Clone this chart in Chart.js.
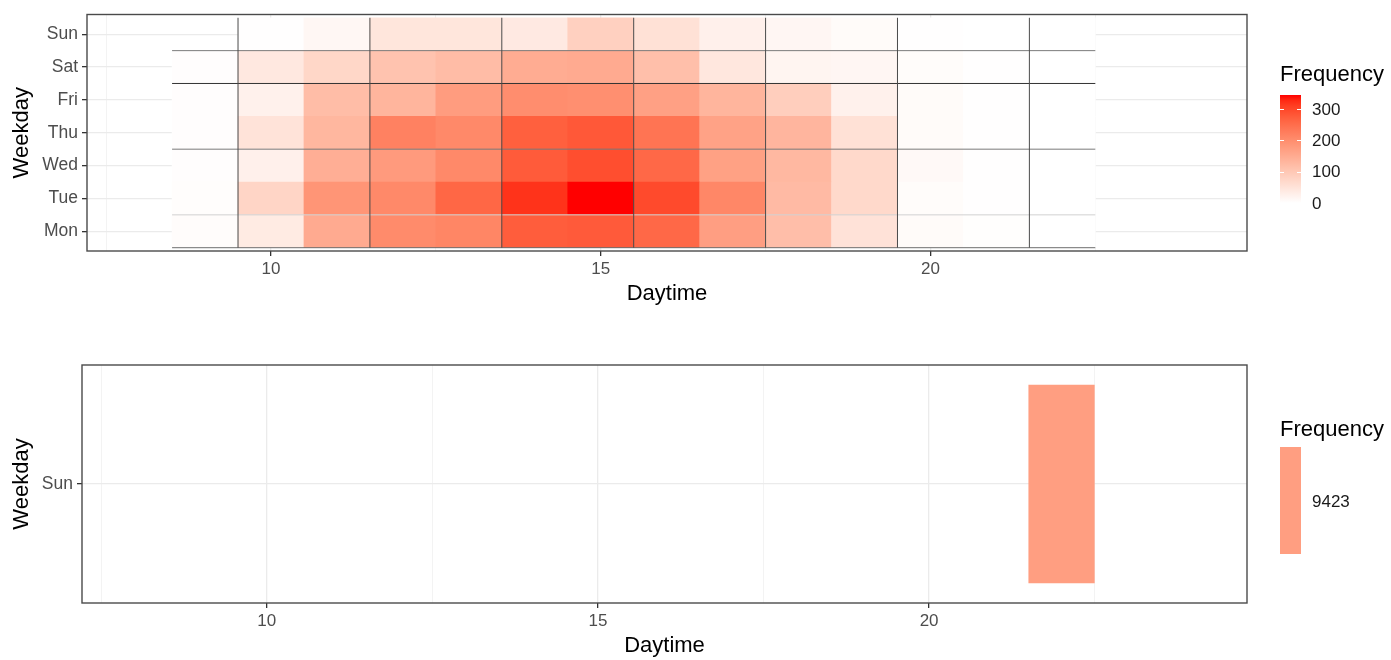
<!DOCTYPE html>
<html>
<head>
<meta charset="utf-8">
<script src="https://cdn.jsdelivr.net/npm/chart.js@4.4.1/dist/chart.umd.min.js"></script>
<style>
  body { margin: 0; width: 1391px; height: 660px; overflow: hidden; position: relative; background: #fff;
         font-family: "Liberation Sans", Arial, sans-serif; }
  canvas { position: absolute; left: 0; }
  #topChart { top: 0; }
  #bottomChart { top: 340px; }
  .legend-title { position: absolute; left: 1280px; font-size: 22px; line-height: 22px; color: #000; white-space: nowrap; }
  .legend-label { position: absolute; left: 1312px; font-size: 17px; line-height: 17px; color: #1a1a1a; }
  .legend-bar { position: absolute; left: 1280px; width: 21px; }
</style>
</head>
<body>
<canvas id="topChart" width="1391" height="308"></canvas>
<canvas id="bottomChart" width="1391" height="320"></canvas>
<div id="legendTop"></div>
<div id="legendBottom"></div>
<script>
// ---- data ----
const weekdays = ['Mon', 'Tue', 'Wed', 'Thu', 'Fri', 'Sat', 'Sun'];
const hours = [9, 10, 11, 12, 13, 14, 15, 16, 17, 18, 19, 20, 21, 22];

const monFreq = [5, 37, 151, 204, 213, 274, 277, 258, 172, 116, 52, 8, 2, 0];
const tueFreq = [4, 76, 188, 207, 260, 320, 345, 297, 210, 123, 69, 6, 1, 0];
const wedFreq = [3, 27, 144, 179, 207, 276, 292, 258, 168, 128, 69, 10, 1, 0];
const thuFreq = [3, 50, 130, 220, 207, 270, 280, 240, 166, 132, 55, 8, 1, 0];
const friFreq = [3, 25, 119, 133, 176, 201, 197, 169, 133, 89, 25, 8, 1, 0];
const satFreq = [3, 41, 73, 108, 121, 148, 151, 115, 44, 18, 16, 6, 1, 0];
const sunFreq = [null, 1, 14, 46, 46, 39, 84, 55, 27, 16, 8, 1, 0, 0];

// second panel: a single tile
const totalDay = 'Sun';
const totalHour = 22;
const totalFreq = 9423;

const xTickLabels = [10, 15, 20];
const xGridValues = [7.5, 10, 12.5, 15, 17.5, 20, 22.5];
const legendBreaks = [0, 100, 200, 300];

// odd tile edges visible in the top panel
const tileEdgesX = [9.5, 11.5, 13.5, 15.5, 17.5, 19.5, 21.5];
const tileEdgesY = [6.5, 5.5, 3.5, 1.5, 0.5];
const tileEdgeColoursY = ['#7c7c7c', '#333333', '#7a7a7a', '#d2d2d2', '#6e6e6e'];

// ---- white -> red gradient in CIELAB (like scale_fill_gradient) ----
const WHITE_REF = [0.95047, 1, 1.08883];
function toLinear(c) { c /= 255; return c <= 0.04045 ? c / 12.92 : Math.pow((c + 0.055) / 1.055, 2.4); }
function toSrgb(c) {
  c = c <= 0.0031308 ? 12.92 * c : 1.055 * Math.pow(c, 1 / 2.4) - 0.055;
  return Math.round(Math.max(0, Math.min(1, c)) * 255);
}
function rgbToLab(rgb) {
  const [R, G, B] = rgb.map(toLinear);
  const X = (0.4124 * R + 0.3576 * G + 0.1805 * B) / WHITE_REF[0];
  const Y = (0.2126 * R + 0.7152 * G + 0.0722 * B) / WHITE_REF[1];
  const Z = (0.0193 * R + 0.1192 * G + 0.9505 * B) / WHITE_REF[2];
  const f = t => t > 0.008856 ? Math.cbrt(t) : 7.787 * t + 16 / 116;
  return [116 * f(Y) - 16, 500 * (f(X) - f(Y)), 200 * (f(Y) - f(Z))];
}
function labToRgb(lab) {
  const fy = (lab[0] + 16) / 116, fx = fy + lab[1] / 500, fz = fy - lab[2] / 200;
  const inv = t => t * t * t > 0.008856 ? t * t * t : (t - 16 / 116) / 7.787;
  const X = inv(fx) * WHITE_REF[0], Y = inv(fy) * WHITE_REF[1], Z = inv(fz) * WHITE_REF[2];
  const R = 3.2406 * X - 1.5372 * Y - 0.4986 * Z;
  const G = -0.9689 * X + 1.8758 * Y + 0.0415 * Z;
  const B = 0.0557 * X - 0.2040 * Y + 1.0570 * Z;
  return 'rgb(' + toSrgb(R) + ',' + toSrgb(G) + ',' + toSrgb(B) + ')';
}
const labLow = rgbToLab([255, 255, 255]);
const labHigh = rgbToLab([255, 0, 0]);
function heatColour(t) { return labToRgb(labLow.map((v, i) => v + (labHigh[i] - v) * t)); }

const weekdayFreq = [monFreq, tueFreq, wedFreq, thuFreq, friFreq, satFreq, sunFreq];
const allFreq = weekdayFreq.flat().filter(v => v != null);
const fillMin = Math.min(...allFreq);
const fillMax = Math.max(...allFreq);
const fillScale = v => heatColour((v - fillMin) / (fillMax - fillMin));

Chart.defaults.font.family = "'Liberation Sans', Arial, sans-serif";

const panelBorder = {
  id: 'panelBorder',
  afterDraw(chart) {
    const { ctx, chartArea: a } = chart;
    ctx.save();
    ctx.strokeStyle = '#4a4a4a';
    ctx.lineWidth = 1.4;
    ctx.strokeRect(a.left, a.top, a.right - a.left, a.bottom - a.top);
    ctx.restore();
  }
};

const isMajorX = c => !!(c && c.tick && xTickLabels.includes(c.tick.value));

function xAxis(min, max) {
  return {
    type: 'linear', min: min, max: max, offset: false,
    afterBuildTicks: s => { s.ticks = xGridValues.map(v => ({ value: v })); },
    afterFit: s => { s.height = 57; },
    ticks: {
      autoSkip: false, maxRotation: 0, padding: 3, color: '#4d4d4d', font: { size: 17 },
      callback: v => xTickLabels.includes(v) ? String(v) : ''
    },
    grid: {
      offset: false,
      color: c => isMajorX(c) ? '#ebebeb' : '#f3f3f3',
      lineWidth: c => isMajorX(c) ? 1.3 : 1,
      tickLength: 5,
      tickColor: c => isMajorX(c) ? '#333' : 'rgba(0,0,0,0)',
      tickWidth: 1.3
    },
    border: { display: false },
    title: { display: true, text: 'Daytime', color: '#000', font: { size: 22 }, padding: { top: 0, bottom: 1 } }
  };
}

function yAxis(labels, width) {
  return {
    type: 'linear', min: 0.4, max: labels.length + 0.6, offset: false,
    afterBuildTicks: s => { s.ticks = labels.map((d, i) => ({ value: i + 1 })); },
    afterFit: s => { s.width = width; },
    ticks: { autoSkip: false, padding: 4, color: '#4d4d4d', font: { size: 17.5 }, callback: v => labels[v - 1] },
    grid: { offset: false, color: '#ebebeb', lineWidth: 1.3, tickLength: 5, tickColor: '#333', tickWidth: 1.3 },
    border: { display: false },
    title: { display: true, text: 'Weekday', color: '#000', font: { size: 22 }, padding: { top: 9, bottom: 0 } }
  };
}

// ---- top panel: weekday x hour heatmap ----
const tileSets = weekdayFreq.map((freq, i) => ({
  type: 'bar',
  label: weekdays[i],
  data: hours.map((h, j) => ({ x: h, y: [i + 0.5, i + 1.5], v: freq[j] })).filter(p => p.v != null),
  backgroundColor: c => (c.raw ? fillScale(c.raw.v) : '#fff'),
  borderWidth: 0,
  grouped: false,
  barPercentage: 1,
  categoryPercentage: 1,
  order: 1
}));

const edgeSets = [
  ...tileEdgesX.map(x => ({
    type: 'line', data: [{ x: x, y: 0.5 }, { x: x, y: weekdays.length + 0.5 }],
    borderColor: '#4a4a4a', borderWidth: 1, pointRadius: 0, fill: false, order: 0
  })),
  ...tileEdgesY.map((y, k) => ({
    type: 'line', data: [{ x: hours[0] - 0.5, y: y }, { x: hours[hours.length - 1] + 0.5, y: y }],
    borderColor: tileEdgeColoursY[k], borderWidth: 1, pointRadius: 0, fill: false, order: 0
  }))
];

new Chart(document.getElementById('topChart'), {
  type: 'bar',
  data: { datasets: [...tileSets, ...edgeSets] },
  options: {
    responsive: false,
    animation: false,
    layout: { padding: { top: 13, right: 144, left: 0, bottom: 0 } },
    plugins: { legend: { display: false }, tooltip: { enabled: false } },
    scales: { x: xAxis(7.21, 24.8), y: yAxis(weekdays, 87) }
  },
  plugins: [panelBorder]
});

// ---- bottom panel: one tile ----
const bottomY = yAxis([totalDay], 82);
new Chart(document.getElementById('bottomChart'), {
  type: 'bar',
  data: {
    datasets: [{
      data: [{ x: [totalHour - 0.5, totalHour + 0.5], y: 1, v: totalFreq }],
      backgroundColor: heatColour(0.5),
      borderWidth: 0,
      barPercentage: 1,
      categoryPercentage: 1 / (bottomY.max - bottomY.min)
    }]
  },
  options: {
    indexAxis: 'y',
    responsive: false,
    animation: false,
    layout: { padding: { top: 25, right: 144, left: 0, bottom: 0 } },
    plugins: { legend: { display: false }, tooltip: { enabled: false } },
    scales: { x: xAxis(7.21, 24.8), y: bottomY }
  },
  plugins: [panelBorder]
});

// ---- legends ----
function addEl(parent, cls, text, css) {
  const el = document.createElement('div');
  el.className = cls;
  if (text != null) el.textContent = text;
  Object.assign(el.style, css);
  parent.appendChild(el);
  return el;
}

const legendTop = document.getElementById('legendTop');
const barTop = 95, barHeight = 108;
addEl(legendTop, 'legend-title', 'Frequency', { top: '63px' });
const stops = [];
for (let k = 0; k <= 20; k++) stops.push(heatColour(1 - k / 20) + ' ' + (k * 5) + '%');
addEl(legendTop, 'legend-bar', null, {
  top: barTop + 'px', height: barHeight + 'px', background: 'linear-gradient(to bottom,' + stops.join(',') + ')'
});
legendBreaks.forEach(b => {
  const yc = barTop + (1 - (b - fillMin) / (fillMax - fillMin)) * barHeight;
  addEl(legendTop, 'legend-label', String(b), { top: (yc - 8.3) + 'px' });
  addEl(legendTop, 'legend-bar', null, { top: yc + 'px', height: '1px', width: '4px', background: '#fff' });
  addEl(legendTop, 'legend-bar', null, { top: yc + 'px', height: '1px', width: '4px', left: '1297px', background: '#fff' });
});

const legendBottom = document.getElementById('legendBottom');
addEl(legendBottom, 'legend-title', 'Frequency', { top: '418px' });
addEl(legendBottom, 'legend-bar', null, { top: '447px', height: '107px', background: heatColour(0.5) });
addEl(legendBottom, 'legend-label', String(totalFreq), { top: '492.7px' });
</script>
</body>
</html>
